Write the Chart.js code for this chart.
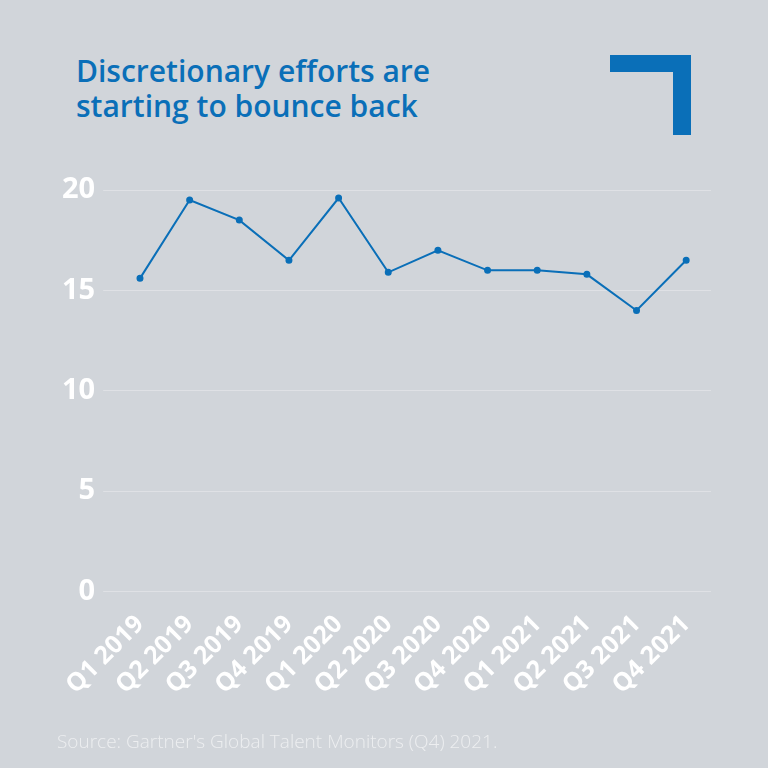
<!DOCTYPE html>
<html>
<head>
<meta charset="utf-8">
<script src="https://cdn.jsdelivr.net/npm/chart.js@4/dist/chart.umd.min.js"></script>
<style>
  body { margin: 0; background: #d1d5da; }
  #wrap { position: relative; width: 768px; height: 768px; background: #d1d5da; overflow: hidden; }
  #titulo { position: absolute; left: 76px; top: 53px; font-family: "Open Sans", sans-serif; font-weight: 600;
    font-size: 30px; line-height: 35px; color: #0a6fb8; }
  .barra { position: absolute; background: #0a6fb8; }
  #fonte { position: absolute; left: 57px; top: 728px; font-family: "Open Sans", sans-serif; font-size: 19px;
    font-weight: 300; color: rgba(255,255,255,0.6); }
  #grafico { position: absolute; left: 0; top: 0; width: 768px; height: 768px; }
</style>
</head>
<body>
<div id="wrap">
  <div id="titulo">Discretionary efforts are<br>starting to bounce back</div>
  <div class="barra" style="left:610px;top:55px;width:81px;height:17px"></div>
  <div class="barra" style="left:673px;top:55px;width:18px;height:80px"></div>
  <div id="grafico"><canvas id="myChart" width="768" height="768"></canvas></div>
  <div id="fonte">Source: Gartner's Global Talent Monitors (Q4) 2021.</div>
</div>
<script>
const trimestres = ['Q1 2019', 'Q2 2019', 'Q3 2019', 'Q4 2019', 'Q1 2020', 'Q2 2020',
  'Q3 2020', 'Q4 2020', 'Q1 2021', 'Q2 2021', 'Q3 2021', 'Q4 2021'];
const esforcos = [15.6, 19.5, 18.5, 16.5, 19.6, 15.9, 17.0, 16.0, 16.0, 15.8, 14.0, 16.5];
const ticksY = [0, 5, 10, 15, 20];

const azul = '#0a6fb8';
let ctx = document.getElementById('myChart').getContext('2d');

new Chart(ctx, {
  type: 'line',
  data: {
    labels: trimestres,
    datasets: [{
      data: esforcos,
      borderColor: azul,
      backgroundColor: azul,
      borderWidth: 2,
      pointRadius: 2.5,
      pointHoverRadius: 2.5,
      tension: 0
    }]
  },
  options: {
    responsive: false,
    animation: false,
    layout: { padding: { top: 190, left: 54, right: 57, bottom: 58 } },
    plugins: { legend: { display: false }, tooltip: { enabled: false } },
    scales: {
      x: {
        offset: true,
        grid: { display: false },
        border: { display: false },
        ticks: {
          color: '#ffffff',
          font: { family: 'Open Sans', size: 25, weight: 'bold' },
          maxRotation: 45,
          minRotation: 45,
          autoSkip: false,
          padding: 10
        }
      },
      y: {
        min: 0,
        max: 20,
        afterBuildTicks: (eixo) => { eixo.ticks = ticksY.map(v => ({ value: v })) },
        grid: { color: 'rgba(255,255,255,0.3)', tickLength: 12, tickColor: 'rgba(255,255,255,0.3)' },
        border: { display: false },
        ticks: {
          color: '#ffffff',
          font: { family: 'Open Sans', size: 29, weight: 'bold' },
          padding: 8
        }
      }
    }
  }
});
</script>
</body>
</html>
